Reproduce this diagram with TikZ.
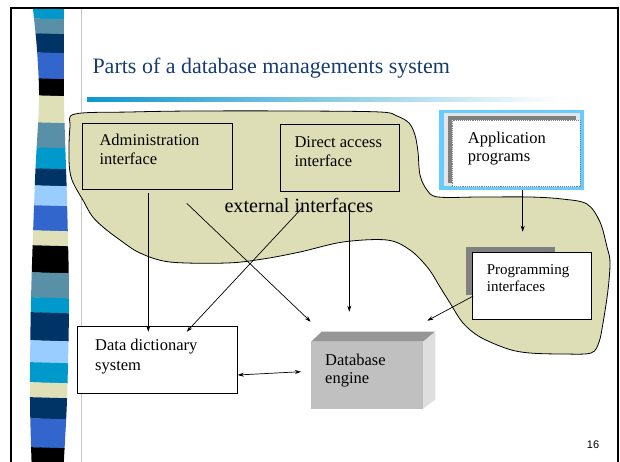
\documentclass[tikz,border=0pt]{standalone}
\usepackage{fontspec}
\setmainfont{Liberation Serif}
\newfontfamily\slidenumfont{Liberation Sans}
\usetikzlibrary{arrows.meta}

\definecolor{titleblue}{RGB}{22,60,112}
\definecolor{blobtan}{RGB}{222,222,182}
\definecolor{appcyan}{RGB}{102,204,255}
\definecolor{engfront}{RGB}{192,192,192}
\definecolor{engtop}{RGB}{150,150,150}
\definecolor{engside}{RGB}{222,222,222}
% stripe colours
\definecolor{scyan}{RGB}{0,153,204}
\definecolor{ssteel}{RGB}{90,143,168}
\definecolor{snavy}{RGB}{0,51,102}
\definecolor{sroyal}{RGB}{51,102,204}
\definecolor{sbeige}{RGB}{224,224,184}
\definecolor{slight}{RGB}{153,204,255}

\tikzset{
  box/.style={draw, line width=0.9pt, inner sep=0pt, anchor=north west},
  % anchored on the baseline of the last line
  boxtext/.style={anchor=base west, inner sep=0pt, align=left,
    font=\fontsize{16.5}{19.5}\selectfont},
  arr/.style={-{Stealth[length=6pt,width=4pt]}, line width=0.7pt},
  arrboth/.style={{Stealth[length=6pt,width=4pt]}-{Stealth[length=6pt,width=4pt]}, line width=0.7pt},
}

\begin{document}
\begin{tikzpicture}[x=1pt, y=-1pt]
\clip (0,0) rectangle (620,462);
\fill[white] (0,0) rectangle (620,462);

% slide frame and left stripe
\draw[line width=2pt] (11,475) -- (11,8) -- (618,8) -- (618,475);
\begin{scope}
  \clip plot[smooth] coordinates {(33,9) (37,50) (39,100) (35,180) (31,300) (30,400) (32,475)}
    -- plot[smooth] coordinates {(63,475) (67,400) (69,300) (67,200) (64,100) (64,9)} -- cycle;
  \foreach \ya/\yb/\c in {8/18/scyan, 18/33/ssteel, 33/52/snavy, 52/78/sroyal,
      78/95/black, 95/122/sbeige, 122/147/ssteel, 147/168/scyan, 168/185/snavy,
      185/205/slight, 205/230/sroyal, 230/245/sbeige, 245/272/black, 272/297/ssteel,
      297/312/scyan, 312/340/snavy, 340/362/slight, 362/382/scyan, 382/397/sbeige,
      397/418/snavy, 418/447/sroyal, 447/480/black}
    \fill[\c] (25,\ya) -- (75,\ya+1.5) -- (75,\yb+1.8) -- (25,\yb+0.3) -- cycle;
\end{scope}
\draw[gray!45, line width=0.8pt] (81.7,9) -- (81.7,475);

% title
\node[anchor=base west, inner sep=0pt, text=titleblue, font=\fontsize{22}{26}\selectfont]
  (title) at (92.3,73.3) {Parts of a database managements system};
\shade[left color={rgb,255:red,15;green,150;blue,205}, middle color={rgb,255:red,125;green,172;blue,210},
  right color=white] (87,97.5) rectangle (560,101.5);

% outline of the external interfaces
\draw[fill=blobtan, line width=0.8pt] plot[smooth cycle, tension=0.55] coordinates {
  (75,114) (130,112) (193,111) (300,111) (380,112) (397,116) (409,123) (415,135)
  (418,152) (420,175) (427,190) (438,197) (480,197) (530,197) (562,199) (587,204)
  (600,222) (607,247) (610,262) (608,290) (603,323) (599,342) (591,353) (563,354)
  (530,353) (508,349) (480,337) (463,323) (450,303) (440,287) (428,268) (410,250)
  (387,240) (343,242) (300,252) (263,259) (227,263) (170,262) (140,253) (120,240)
  (103,227) (92,216) (84,202) (72,180) (69,160) (70,127)};

% application programs
\fill[appcyan] (439,110) rectangle (584,190);
\fill[gray!20] (444,113.5) rectangle (580,186);
\fill[gray] (448,116.5) rectangle (576,183);
\node[box, draw=gray, densely dotted, line width=0.6pt, fill=white,
  minimum width=128pt, minimum height=66.5pt] (app) at (451.7,120) {};
\node[boxtext, font=\fontsize{16.5}{18.5}\selectfont] (apptxt) at (467.7,161.7) {Application\\programs};

% interface boxes
\node[box, minimum width=149.4pt, minimum height=66pt] (admin) at (82.3,123.3) {};
\node[boxtext] (admintxt) at (99.3,165) {Administration\\interface};
\node[box, minimum width=119.3pt, minimum height=66.4pt] (direct) at (280,124.3) {};
\node[boxtext] (directtxt) at (294.3,166.7) {Direct access\\interface};
\node[anchor=base west, inner sep=0pt, font=\fontsize{20.2}{24}\selectfont]
  (ext) at (224.3,212.7) {external interfaces};

\fill[gray] (466,247) rectangle (555,295);
\node[box, fill=white, minimum width=118.4pt, minimum height=66.7pt] (prog) at (472.3,252.3) {};
\node[boxtext, font=\fontsize{15}{16.8}\selectfont] (progtxt) at (486.7,291.7) {Programming\\interfaces};

% data dictionary
\node[box, fill=white, minimum width=159.4pt, minimum height=66.7pt] (dd) at (77.3,326) {};
\node[boxtext] (ddtxt) at (95,370) {Data dictionary\\system};

% database engine block
\node[anchor=north west, inner sep=0pt, fill=engfront, minimum width=111.7pt,
  minimum height=66.6pt] (engine) at (311,341.7) {};
\fill[engtop] (engine.north west) -- ++(10.7,-10) -- ++(113.3,0) -- (engine.north east) -- cycle;
\fill[engside] (engine.north east) -- ++(12.3,-10) -- ++(0,67.6) -- (engine.south east) -- cycle;
\node[boxtext, font=\fontsize{16.5}{18.3}\selectfont] (enginetxt) at (325,383.3) {Database\\engine};

% connectors
\coordinate (admin-out1) at (148.3,193.3);
\coordinate (admin-out2) at (186.7,203.3);
\coordinate (direct-out1) at (302.7,207.3);
\coordinate (direct-out2) at (349.3,210);
\coordinate (app-out) at (522.7,190);
\coordinate (prog-in) at (522.7,231.7);
\coordinate (prog-out) at (473.3,296);
\coordinate (dd-in1) at (148.3,331.7);
\coordinate (dd-in2) at (186.7,331.7);
\coordinate (dd-side) at (237.7,375);
\coordinate (engine-in1) at (310.7,321.7);
\coordinate (engine-in2) at (349.3,311.7);
\coordinate (engine-in3) at (427.3,320.7);
\coordinate (engine-side) at (301,371.7);

\draw[arr] (admin-out1) -- (dd-in1);
\draw[arr] (admin-out2) -- (engine-in1);
\draw[arr] (direct-out1) -- (dd-in2);
\draw[arr] (direct-out2) -- (engine-in2);
\draw[arr] (app-out) -- (prog-in);
\draw[arr] (prog-out) -- (engine-in3);
\draw[arrboth] (dd-side) -- (engine-side);

% slide number
\node[anchor=base west, inner sep=0pt, font=\slidenumfont\fontsize{11}{13}\selectfont]
  (pagenum) at (586.7,448) {16};
\end{tikzpicture}
\end{document}
